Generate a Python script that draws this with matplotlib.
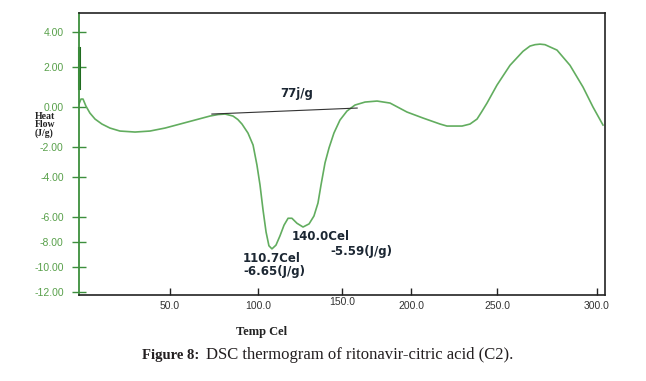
import matplotlib

matplotlib.use("Agg")
import matplotlib.pyplot as plt
import numpy as np
from matplotlib.ticker import FixedLocator, NullLocator

# DSC curve (Temp in Cel, heat flow in J/g)
temp = [0.0, 1.1, 2.2, 3.8, 6.0, 8.8, 12.6, 17.0, 22.5, 30.8, 39.0, 47.3,
        55.7, 64.2, 72.7, 77.3, 81.3, 85.8, 88.5, 90.9, 94.3, 97.2, 99.4,
        101.2, 103.0, 104.8, 106.5, 108.3, 110.7, 113.1, 115.5, 117.9, 120.2,
        123.2, 126.8, 130.4, 133.3, 135.7, 137.5, 139.9, 142.3, 145.2, 148.8,
        153.6, 159.4, 166.7, 175.4, 184.8, 197.1, 207.0, 216.9, 220.9, 229.7,
        234.3, 238.4, 241.0, 244.2, 250.0, 256.5, 263.0, 266.5, 269.0, 271.5,
        274.0, 276.5, 280.0, 286.5, 293.0, 298.0, 303.0]
heat_flow = [0.15, 0.4, 0.4, 0.05, -0.3, -0.6, -0.85, -1.05, -1.2, -1.25,
             -1.2, -1.05, -0.85, -0.65, -0.45, -0.375, -0.35, -0.45, -0.62,
             -0.85, -1.3, -1.9, -3.2, -4.4, -5.65, -7.2, -8.3, -8.55, -8.25,
             -7.5, -6.65, -6.1, -6.1, -6.5, -6.8, -6.55, -5.95, -5.3, -4.4,
             -3.05, -2.05, -1.3, -0.65, -0.2, 0.1, 0.25, 0.3, 0.2, -0.25,
             -0.55, -0.85, -0.95, -0.95, -0.85, -0.6, -0.25, 0.2, 1.1, 2.1,
             2.9, 3.2, 3.28, 3.31, 3.28, 3.15, 2.97, 2.1, 1.0, 0.0, -0.9]

# integration baseline of the melting endotherm
baseline_temp = [73.8, 161.0]
baseline_flow = [-0.35, -0.05]

x_ticks = [50, 100, 150, 200, 250, 300]
x_tick_labels = ["50.0", "100.0", "150.0", "200.0", "250.0", "300.0"]
y_ticks = [4, 2, 0, -2, -4, -6, -8, -10, -12]
y_tick_labels = ["4.00", "2.00", "0.00", "-2.00", "-4.00", "-6.00",
                 "-8.00", "-10.00", "-12.00"]

# the instrument printout has uneven tick spacing, so map it piecewise
X_BREAKS = np.array([-10, 0, 50, 100, 150, 200, 250, 300, 320], float)
X_POS = np.array([61, 79, 170, 258, 342, 411, 497, 597, 637], float)
Y_BREAKS = np.array([-14, -12, -10, -8, -6, -4, -2, 0, 2, 4, 6], float)
Y_POS = -np.array([317, 292, 267, 242, 217, 177, 147, 107, 67, 32, -3], float)

W, H = 646, 381
GREEN = "#3d8f3d"
CURVE = "#62ad5f"
INK = "#1c2733"


def fx(v):
    return np.interp(v, X_BREAKS, X_POS)


def fx_inv(p):
    return np.interp(p, X_POS, X_BREAKS)


def fy(v):
    return np.interp(v, Y_BREAKS, Y_POS)


def fy_inv(p):
    return np.interp(p, Y_POS, Y_BREAKS)


def px(x, y):
    # pixel position on the page -> figure fraction
    return x / W, 1 - y / H


def make_plot():
    plt.rcParams["font.family"] = ["Liberation Sans", "DejaVu Sans"]
    fig = plt.figure(figsize=(W / 100, H / 100), dpi=100)
    ax = fig.add_axes([79 / W, 1 - 295 / H, (605 - 79) / W, (295 - 13) / H])

    ax.set_xscale("function", functions=(fx, fx_inv))
    ax.set_yscale("function", functions=(fy, fy_inv))

    ax.plot(temp, heat_flow, color=CURVE, lw=1.2, solid_joinstyle="round")
    ax.plot(baseline_temp, baseline_flow, color="#333333", lw=0.8)

    ax.set_xlim(0, 304)
    ax.set_ylim(-12.24, 5.09)

    ax.xaxis.set_major_locator(FixedLocator(x_ticks))
    ax.xaxis.set_minor_locator(NullLocator())
    ax.set_xticklabels(x_tick_labels)
    ax.yaxis.set_major_locator(FixedLocator(y_ticks))
    ax.yaxis.set_minor_locator(NullLocator())
    ax.set_yticklabels(y_tick_labels)

    ax.tick_params(axis="x", direction="in", length=5, width=1,
                   color="#222222", labelcolor="#333333", labelsize=7.5, pad=4)
    ax.tick_params(axis="y", direction="inout", length=10, width=1,
                   color=GREEN, labelcolor="#58a04a", labelsize=7.5, pad=6)
    # 150.0 sits a little higher on the printout
    ax.xaxis.get_major_ticks()[2].set_pad(1.5)

    for side in ["top", "right", "bottom"]:
        ax.spines[side].set_color("#222222")
        ax.spines[side].set_linewidth(1.2)
    ax.spines["left"].set_color(GREEN)
    ax.spines["left"].set_linewidth(1.3)
    ax.axvline(0, ymin=0.734, ymax=0.876, color="#1f6b1f", lw=2.2, clip_on=False)

    # annotations from the analysis software
    bold = dict(family="DejaVu Sans", weight="bold", color=INK, fontsize=8.5)
    fig.text(*px(297, 94), "77j/g", ha="center", va="center", **bold)
    fig.text(*px(292, 236), "140.0Cel", ha="left", va="center", **bold)
    fig.text(*px(330, 252), "-5.59(J/g)", ha="left", va="center", **bold)
    fig.text(*px(243, 258), "110.7Cel", ha="left", va="center", **bold)
    fig.text(*px(243, 272), "-6.65(J/g)", ha="left", va="center", **bold)

    serif = ["Liberation Serif", "DejaVu Serif"]
    fig.text(*px(35, 125), "Heat\nFlow\n(J/g)", ha="left", va="center",
             family=serif, weight="bold", fontsize=7, linespacing=0.9,
             color="#222222")
    fig.text(*px(262, 332), "Temp Cel", ha="center", va="center",
             family=serif, weight="bold", fontsize=9, color="#222222")

    # caption under the figure
    fig.text(*px(199, 355), "Figure 8:", ha="right", va="center",
             family=serif, weight="bold", fontsize=10.5, color="#231f20")
    fig.text(*px(206, 355), "DSC thermogram of ritonavir-citric acid (C2).",
             ha="left", va="center", family=serif, fontsize=12, color="#231f20")

    fig.savefig("out.png", dpi=100)


if __name__ == "__main__":
    make_plot()
